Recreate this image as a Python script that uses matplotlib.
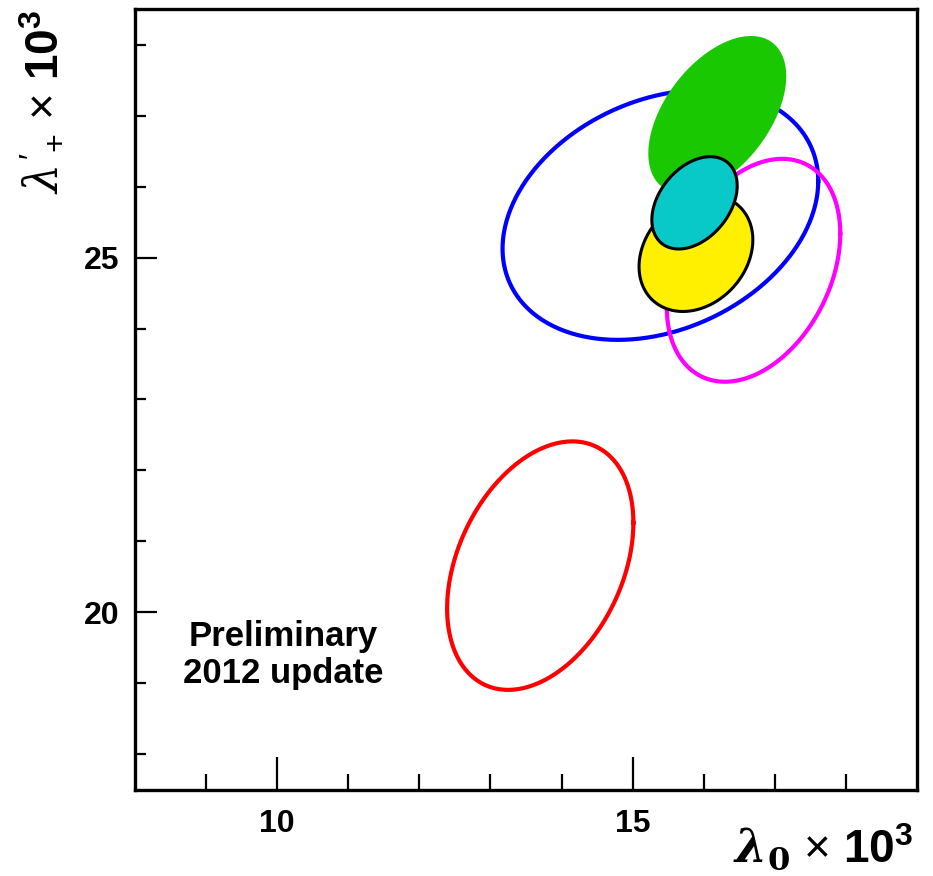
import numpy as np
import matplotlib
matplotlib.use('Agg')
import matplotlib.pyplot as plt

plt.rcParams['font.family'] = ['Liberation Sans', 'DejaVu Sans']
plt.rcParams['mathtext.fontset'] = 'custom'
plt.rcParams['mathtext.rm'] = 'Liberation Sans'
plt.rcParams['mathtext.bf'] = 'Liberation Sans:bold'
plt.rcParams['mathtext.it'] = 'DejaVu Serif:italic'
plt.rcParams['mathtext.bfit'] = 'DejaVu Serif:italic:bold'
plt.rcParams['mathtext.sf'] = 'DejaVu Serif:bold'

# contours: centre, x/y extent, correlation
names = ['blue', 'magenta', 'red', 'green', 'yellow', 'cyan']
cx = [15.39, 16.70, 13.70, 16.19, 15.89, 15.87]
cy = [25.60, 24.82, 20.66, 27.01, 25.06, 25.77]
sx = [2.22, 1.22, 1.31, 0.97, 0.80, 0.60]
sy = [1.76, 1.57, 1.75, 1.11, 0.82, 0.65]
rho = [0.27, 0.33, 0.345, 0.49, 0.23, 0.37]
filled = [False, False, False, True, True, True]
colors = ['#0000ff', '#ff00ff', '#ff0000', '#19c800', '#fff000', '#09c8c8']

fig = plt.figure(figsize=(9.33, 8.76), dpi=100)
ax = fig.add_axes([0.1447, 0.0982, 0.8382, 0.8915])

t = np.linspace(0, 2 * np.pi, 400)
for i in range(len(names)):
    x = cx[i] + sx[i] * np.cos(t)
    y = cy[i] + sy[i] * (rho[i] * np.cos(t) + np.sqrt(1 - rho[i] ** 2) * np.sin(t))
    if filled[i]:
        if names[i] == 'green':
            ax.fill(x, y, color=colors[i], lw=0, zorder=3 + i)
        else:
            ax.fill(x, y, facecolor=colors[i], edgecolor='black', lw=2.2, zorder=3 + i)
    else:
        ax.plot(x, y, color=colors[i], lw=3, zorder=3 + i)

ax.set_xlim(8, 19)
ax.set_ylim(17.5, 28.5)
ax.set_xticks([10, 15])
ax.set_yticks([20, 25])
ax.set_xticks(np.arange(9, 19, 1), minor=True)
ax.set_yticks(np.arange(18, 29, 1), minor=True)
ax.tick_params(axis='both', which='both', direction='in', width=1.6,
               labelsize=23)
ax.tick_params(axis='x', which='major', length=24, pad=14)
ax.tick_params(axis='x', which='minor', length=11.5)
ax.tick_params(axis='y', which='major', length=16, pad=11)
ax.tick_params(axis='y', which='minor', length=8)
for lab in ax.get_xticklabels() + ax.get_yticklabels():
    lab.set_fontweight('bold')
for s in ax.spines.values():
    s.set_linewidth(2.4)

# axis titles, ROOT style at the ends of the axes
ax.text(0.995, -0.0935, r'$\mathbfit{\lambda}_{\mathsf{0}}$ × $\mathbf{10^{3}}$',
        transform=ax.transAxes, fontsize=33, ha='right', va='baseline')
ax.text(-0.1157, 0.999, r"$\mathit{\lambda}'_{+}$ × $\mathbf{10^{3}}$",
        transform=ax.transAxes, fontsize=33, ha='center', va='top', rotation=90)

ax.text(10.08, 19.40, 'Preliminary\n2012 update', fontsize=25,
        fontweight='bold', ha='center', va='center', linespacing=1.15)

fig.savefig('out.png', dpi=100)
